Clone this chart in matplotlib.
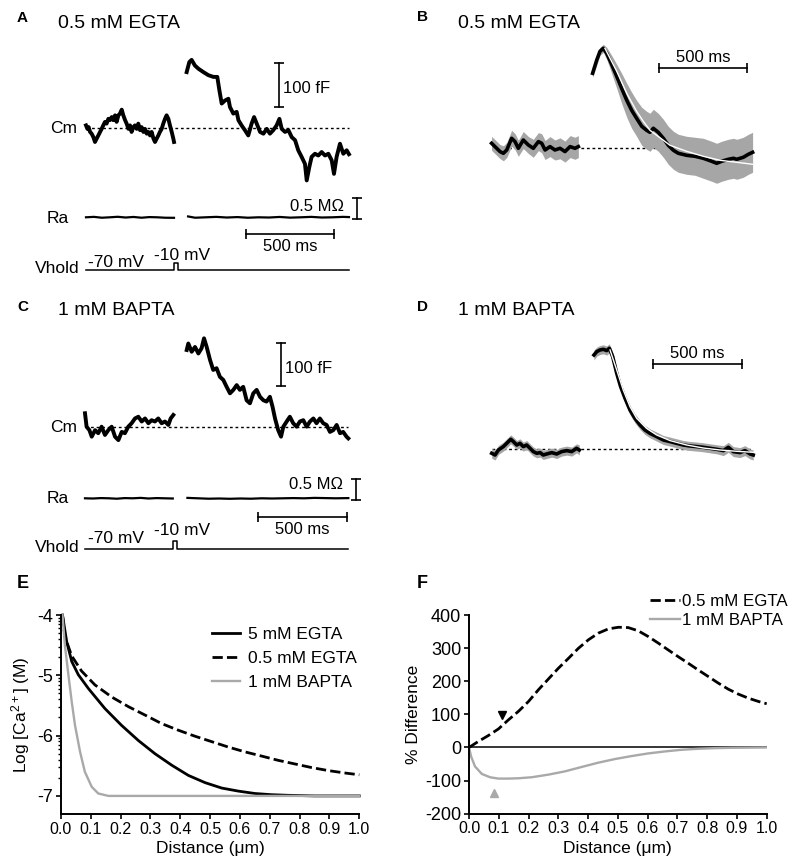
"""Capacitance traces (A-D) and buffer simulations (E-F) redrawn with matplotlib."""

import matplotlib
matplotlib.use("Agg")
import matplotlib.pyplot as plt
from matplotlib.ticker import FormatStrFormatter
import numpy as np

plt.rcParams["font.family"] = ["Liberation Sans", "DejaVu Sans"]
plt.rcParams["axes.unicode_minus"] = False
plt.rcParams["mathtext.fontset"] = "custom"
plt.rcParams["mathtext.rm"] = "Liberation Sans"
plt.rcParams["mathtext.default"] = "regular"

W, H = 800, 868

# ---------------- A: 0.5 mM EGTA, single cell (ms, fF) ----------------
a_pre_t = [0, 8, 15, 23, 32, 42, 51, 61, 70, 80, 89, 98, 108, 117, 127, 136, 146, 155, 165,
           174, 184, 193, 203, 212, 222, 231, 241, 250, 259, 269, 278, 288, 297, 307, 316,
           326, 335, 345, 354, 364, 373, 383, 392, 402, 411, 420, 430, 439, 449, 458, 468,
           477, 487, 496, 500]
a_pre_cm = [6, -2, 2, -9, -13, -21, -32, -24, -17, -9, -2, 6, 14, 10, 21, 18, 25, 18, 29,
            14, 29, 33, 42, 29, 18, 10, -2, 6, -9, 2, 6, -2, 10, -5, 2,
            -9, -2, -13, -9, -17, -9, -24, -32, -24, -17, -9, -2, 10, 21, 29, 21,
            6, -9, -24, -32]
a_post_t = [572, 587, 600, 619, 638, 667, 695, 724, 746, 758, 771, 790, 809, 818, 837,
            856, 866, 884, 903, 922, 941, 955, 970, 989, 1008, 1027, 1045, 1064, 1083, 1099,
            1112, 1131, 1150, 1169, 1188, 1206, 1225, 1244, 1254, 1269, 1282, 1301, 1320,
            1339, 1358, 1377, 1396, 1409, 1424, 1443, 1462, 1481, 1494]
a_post_cm = [128, 151, 156, 143, 136, 128, 121, 117, 117, 86, 56, 63, 67, 48, 33,
             37, 18, 6, -5, -17, 10, 25, 10, -9, -13, -2, -13, -5, 6, 21,
             -2, -9, -5, -21, -28, -51, -66, -82, -120, -89, -66, -59, -63,
             -55, -63, -59, -74, -105, -66, -36, -59, -51, -60]
# access resistance (MOhm, relative)
a_ra_pre_t = [0, 45, 90, 135, 180, 225, 270, 315, 360, 405, 450, 500]
a_ra_pre = [0.0, 0.01, -0.01, 0.0, 0.012, -0.005, 0.008, -0.01, 0.005, 0.0, -0.01, -0.012]
a_ra_post_t = [580, 620, 680, 740, 800, 860, 920, 980, 1040, 1100, 1160, 1220, 1280, 1340, 1400, 1460, 1494]
a_ra_post = [0.02, -0.01, 0.0, 0.01, -0.005, 0.005, -0.01, 0.0, -0.005, 0.008, -0.008, 0.0, 0.01, -0.005, 0.0, 0.01, 0.005]

# ---------------- C: 1 mM BAPTA, single cell ----------------
c_pre_t = [0, 9, 25, 38, 57, 75, 94, 113, 132, 151, 170, 189, 208, 226, 245,
           264, 283, 302, 321, 340, 359, 377, 396, 415, 434, 453, 472, 485, 500]
c_pre_cm = [31, 0, -8, -23, -8, -15, 0, -19, -8, 0, -23, -31, -12, -15, 0,
            8, 19, 23, 12, 19, 8, 15, 12, 19, 8, 12, 4, 19, 27]
c_post_t = [576, 585, 604, 623, 642, 660, 674, 689, 708, 726, 745, 764, 783, 802, 821,
            840, 859, 877, 896, 915, 934, 953, 972, 991, 1010, 1028, 1047, 1062, 1076, 1094,
            1110, 1123, 1142, 1160, 1179, 1198, 1217, 1236, 1255, 1274, 1293, 1311, 1330,
            1349, 1368, 1387, 1406, 1425, 1444, 1462, 1481, 1491]
c_post_cm = [177, 192, 173, 184, 169, 181, 204, 184, 154, 131, 135, 115, 108, 92, 77,
             85, 96, 85, 92, 61, 54, 77, 85, 69, 61, 58, 69, 46, 19, -8,
             -23, 0, 12, 23, 8, 0, 12, 15, 0, 12, 19, 8, 19,
             8, 4, -12, -8, 4, -15, -12, -23, -27]
c_ra_pre_t = [0, 45, 90, 135, 180, 225, 270, 315, 360, 405, 450, 497]
c_ra_pre = [0.0, -0.005, 0.005, 0.0, -0.01, 0.005, 0.0, 0.01, -0.005, 0.005, 0.0, -0.005]
c_ra_post_t = [580, 640, 700, 760, 820, 880, 940, 1000, 1060, 1120, 1180, 1240, 1300, 1360, 1420, 1491]
c_ra_post = [0.01, 0.0, -0.01, -0.005, -0.012, -0.005, -0.01, 0.0, -0.005, 0.0, 0.005, 0.0, 0.01, 0.005, 0.0, 0.005]

# holding potential protocol (ms, mV)
vhold_t = [0, 500, 500, 523, 523, 1492]
vhold_mv = [-70, -70, -10, -10, -70, -70]

# ---------------- B: 0.5 mM EGTA, average (normalised) ----------------
b_pre_t = [9, 28, 57, 76, 95, 123, 142, 161, 189, 218, 246, 275, 294, 313, 341, 369, 398, 426, 455, 483, 502]
b_pre_mean = [0.05, 0.017, -0.033, -0.05, -0.017, 0.1, 0.067, 0.0, 0.083, 0.033, 0.0,
              0.067, 0.05, -0.017, 0.017, -0.017, 0.0, -0.033, 0.017, 0.0, 0.017]
b_pre_sem = [0.07, 0.07, 0.07, 0.075, 0.075, 0.08, 0.08, 0.08, 0.085, 0.085, 0.09,
             0.09, 0.095, 0.095, 0.1, 0.1, 0.105, 0.105, 0.11, 0.11, 0.11]
b_post_t = [583, 606, 625, 644, 663, 691, 720, 748, 777, 805, 833, 862, 890, 909, 928, 956,
            985, 1013, 1042, 1070, 1117, 1165, 1212, 1260, 1288, 1316, 1354, 1383, 1402, 1439, 1468, 1492]
b_post_mean = [0.75, 0.88, 0.97, 1.0, 0.95, 0.84, 0.72, 0.60, 0.48, 0.38, 0.30, 0.22, 0.18, 0.16, 0.20, 0.16,
               0.10, 0.03, -0.02, -0.05, -0.07, -0.08, -0.10, -0.13, -0.15, -0.13, -0.11, -0.10, -0.11, -0.09, -0.06, -0.04]
b_post_sem = [0.04, 0.05, 0.04, 0.04, 0.06, 0.09, 0.12, 0.15, 0.17, 0.18, 0.18, 0.19, 0.19, 0.19, 0.19, 0.19,
              0.19, 0.19, 0.19, 0.19, 0.19, 0.19, 0.2, 0.2, 0.2, 0.2, 0.2, 0.2, 0.2, 0.2, 0.2, 0.2]
b_fit_t = [653, 720, 777, 833, 871, 909, 1023, 1117, 1212, 1307, 1402, 1492]
b_fit = [1.0, 0.77, 0.55, 0.37, 0.27, 0.18, 0.03, -0.03, -0.08, -0.12, -0.14, -0.16]

# ---------------- D: 1 mM BAPTA, average (normalised) ----------------
d_pre_t = [0, 19, 38, 66, 85, 108, 123, 142, 160, 179, 198, 217, 236, 255, 274, 292, 311, 340, 368, 396, 425, 453, 481, 496]
d_pre_mean = [-0.04, -0.057, -0.007, 0.027, 0.06, 0.10, 0.077, 0.043, 0.06, 0.027, 0.043, 0.01,
              -0.023, -0.04, -0.033, -0.057, -0.047, -0.033, -0.047, -0.023, -0.013, -0.023, 0.01, -0.007]
d_pre_sem = [0.05, 0.05, 0.045, 0.045, 0.045, 0.045, 0.045, 0.045, 0.045, 0.045, 0.045, 0.045,
             0.045, 0.045, 0.045, 0.045, 0.045, 0.045, 0.045, 0.045, 0.045, 0.045, 0.045, 0.05]
d_post_t = [579, 595, 613, 632, 651, 666, 685, 708, 730, 755, 783, 811, 840, 868, 896, 934,
            972, 1010, 1047, 1085, 1123, 1161, 1198, 1236, 1274, 1312, 1340, 1368, 1406, 1434, 1463, 1481]
d_post_mean = [0.943, 0.977, 0.993, 1.0, 0.987, 1.01, 0.927, 0.76, 0.627, 0.51, 0.393, 0.31, 0.243, 0.193, 0.16, 0.127,
               0.093, 0.077, 0.06, 0.043, 0.033, 0.027, 0.02, 0.01, 0.0, -0.013, 0.02, -0.023, -0.033, -0.013, -0.047, -0.057]
d_post_sem = [0.05, 0.045, 0.045, 0.045, 0.045, 0.045, 0.045, 0.045, 0.045, 0.045, 0.045, 0.045, 0.045, 0.045, 0.045, 0.045,
              0.045, 0.045, 0.045, 0.045, 0.045, 0.045, 0.045, 0.045, 0.045, 0.05, 0.05, 0.05, 0.05, 0.05, 0.05, 0.05]
d_fit_t = [670, 708, 745, 783, 821, 877, 934, 1010, 1104, 1198, 1293, 1387, 1481]
d_fit = [0.993, 0.793, 0.593, 0.427, 0.31, 0.21, 0.143, 0.087, 0.043, 0.013, -0.007, -0.02, -0.03]

# ---------------- E: simulated [Ca2+] vs distance ----------------
e_dist_egta5 = [0.005, 0.019, 0.036, 0.058, 0.092, 0.147, 0.203, 0.259, 0.315, 0.371, 0.427,
                0.483, 0.539, 0.594, 0.65, 0.706, 0.762, 0.85, 1.0]
e_log_egta5 = [-4.0, -4.44, -4.77, -4.99, -5.22, -5.55, -5.83, -6.08, -6.30, -6.49, -6.66,
               -6.78, -6.87, -6.92, -6.96, -6.98, -6.99, -7.0, -7.0]
e_dist_egta05 = [0.005, 0.013, 0.036, 0.069, 0.114, 0.17, 0.226, 0.282, 0.337, 0.393, 0.449,
                 0.505, 0.561, 0.617, 0.673, 0.728, 0.784, 0.84, 0.896, 0.952, 1.0]
e_log_egta05 = [-4.0, -4.36, -4.68, -4.93, -5.16, -5.36, -5.52, -5.66, -5.80, -5.91, -6.01,
                -6.10, -6.19, -6.27, -6.34, -6.41, -6.47, -6.53, -6.58, -6.62, -6.65]
e_dist_bapta = [0.005, 0.013, 0.025, 0.036, 0.047, 0.064, 0.08, 0.103, 0.125, 0.159, 0.3, 1.0]
e_log_bapta = [-4.0, -4.5, -5.0, -5.44, -5.83, -6.27, -6.60, -6.85, -6.96, -7.0, -7.0, -7.0]
e_labels = ["5 mM EGTA", "0.5 mM EGTA", "1 mM BAPTA"]

# ---------------- F: % difference from 5 mM EGTA ----------------
f_dist_egta = [0, 0.031, 0.065, 0.099, 0.132, 0.166, 0.2, 0.233, 0.267, 0.3, 0.334, 0.367, 0.401, 0.434, 0.468,
               0.502, 0.535, 0.569, 0.602, 0.636, 0.67, 0.703, 0.737, 0.77, 0.804, 0.838, 0.871, 0.905, 0.938, 0.972, 1.0]
f_egta = [0, 18, 36, 56, 83, 109, 139, 174, 207, 239, 269, 299, 325, 345, 358,
          363, 362, 352, 335, 315, 294, 274, 254, 234, 214, 194, 176, 161, 149, 139, 132]
f_dist_bapta = [0, 0.007, 0.02, 0.043, 0.071, 0.099, 0.132, 0.166, 0.21, 0.267, 0.323,
                0.378, 0.434, 0.49, 0.546, 0.602, 0.658, 0.714, 0.77, 0.826, 0.882, 1.0]
f_bapta = [0, -27, -57, -80, -90, -94, -94, -93, -90, -82, -72,
           -59, -46, -35, -26, -18, -12, -7, -4, -2, -1, 0]
f_labels = ["0.5 mM EGTA", "1 mM BAPTA"]
f_egta_marker = (0.11, 98)
f_bapta_marker = (0.085, -136)

GRAY = "#a9a9a9"
BAND = "#a6a6a6"
DASH = (0, (3.7, 1.5))

fig = plt.figure(figsize=(W / 100, H / 100), dpi=100)


def trace_axes(x_px0, px_per_x, y_px0, y0, px_per_y):
    """Full-figure invisible axes whose data units map linearly onto pixels."""
    ax = fig.add_axes([0, 0, 1, 1])
    ax.set_xlim(-x_px0 / px_per_x, (W - x_px0) / px_per_x)
    ax.set_ylim(y0 - (H - y_px0) / px_per_y, y0 + y_px0 / px_per_y)
    ax.set_axis_off()
    ax.patch.set_visible(False)
    return ax


def px_to_data(ax, px, py):
    return ax.transData.inverted().transform((px, H - py))


def vbar(ax, px, py_bottom, length):
    x, y = px_to_data(ax, px, py_bottom)
    ax.plot([x, x], [y, y + length], color="k", lw=1.2, marker="_", ms=7, mew=1.2)


def hbar(ax, px_left, py, length):
    x, y = px_to_data(ax, px_left, py)
    ax.plot([x, x + length], [y, y], color="k", lw=1.2, marker="|", ms=6.5, mew=1.2)


def label(px, py, s, ha="left", size=12, **kw):
    fig.text(px / W, 1 - py / H, s, ha=ha, va="baseline", fontsize=size, **kw)


def draw_cell_panel(letter, title, top, cm_ax, pre_t, pre_cm, post_t, post_cm,
                    ra_ax, ra_pre_t, ra_pre, ra_post_t, ra_post, v_ax, layout):
    label(17, top + layout["letter"], letter, size=11, fontweight="bold")
    label(58.3, top + layout["title"], title, size=14)

    cm_ax.hlines(0, pre_t[0], post_t[-1], colors="k", lw=1, linestyles=(0, (2, 2)))
    cm_ax.plot(pre_t, pre_cm, color="k", lw=2.8)
    cm_ax.plot(post_t, post_cm, color="k", lw=2.8)
    ra_ax.plot(ra_pre_t, ra_pre, color="k", lw=1.6)
    ra_ax.plot(ra_post_t, ra_post, color="k", lw=1.6)
    v_ax.plot(vhold_t, vhold_mv, color="k", lw=1.1)

    vbar(cm_ax, layout["cm_bar_x"], top + layout["cm_bar_y"], 100)
    label(layout["cm_bar_x"] + 4, top + layout["cm_txt_y"], "100 fF")
    vbar(ra_ax, layout["ra_bar_x"], top + layout["ra_bar_y"], 0.5)
    label(layout["ra_bar_x"] - 13, top + layout["ra_txt_y"], "0.5 M\u03a9", ha="right")
    hbar(cm_ax, layout["t_bar_x"], top + layout["t_bar_y"], 500)
    label(layout["t_bar_x"] + 44, top + layout["t_txt_y"], "500 ms", ha="center")

    label(50, top + layout["cm_lab"], "Cm", size=12.5)
    label(46.7, top + layout["ra_lab"], "Ra", size=12.5)
    label(35, top + layout["v_lab"], "Vhold", size=12.5)
    label(88.5, top + layout["v70"], "-70 mV", size=12.5)
    label(154.5, top + layout["v10"], "-10 mV", size=12.5)


# ---- panel A ----
a_cm = trace_axes(86, 0.176, 128, 0, 0.4367)
a_ra = trace_axes(86, 0.176, 217.3, 0, 42.7)
a_v = trace_axes(86, 0.176, 270, -70, 0.1217)
draw_cell_panel("A", "0.5 mM EGTA", 0, a_cm, a_pre_t, a_pre_cm, a_post_t, a_post_cm,
                a_ra, a_ra_pre_t, a_ra_pre, a_ra_post_t, a_ra_post, a_v,
                dict(letter=21.7, title=28.3, cm_bar_x=279, cm_bar_y=107, cm_txt_y=92.7,
                     ra_bar_x=357, ra_bar_y=219, ra_txt_y=210.7, t_bar_x=246, t_bar_y=234,
                     t_txt_y=250.7, cm_lab=132.7, ra_lab=223.3, v_lab=272.7, v70=266.7, v10=260))

# ---- panel C ----
c_cm = trace_axes(85, 0.1766, 426.7, 0, 0.4333)
c_ra = trace_axes(85, 0.1766, 498.3, 0, 41.3)
c_v = trace_axes(85, 0.1766, 549, -70, 0.138)
draw_cell_panel("C", "1 mM BAPTA", 290, c_cm, c_pre_t, c_pre_cm, c_post_t, c_post_cm,
                c_ra, c_ra_pre_t, c_ra_pre, c_ra_post_t, c_ra_post, c_v,
                dict(letter=20.7, title=25, cm_bar_x=281, cm_bar_y=96, cm_txt_y=83.3,
                     ra_bar_x=356, ra_bar_y=210, ra_txt_y=199, t_bar_x=258.3, t_bar_y=227.3,
                     t_txt_y=244.3, cm_lab=141.7, ra_lab=212.7, v_lab=261.7, v70=253.3, v10=245))


def draw_average_panel(letter, title, top, ax, pre_t, pre_mean, pre_sem, post_t, post_mean,
                       post_sem, fit_t, fit, bar_x, bar_y, txt_y):
    label(416.7, top + 20.7, letter, size=11, fontweight="bold")
    label(458.3, top + (28.3 if top == 0 else 25), title, size=14)
    ax.hlines(0, pre_t[0], post_t[-1], colors="k", lw=1, linestyles=(0, (2, 2)), zorder=1)
    for t, m, s in ((pre_t, pre_mean, pre_sem), (post_t, post_mean, post_sem)):
        t, m, s = np.asarray(t), np.asarray(m), np.asarray(s)
        ax.fill_between(t, m - s, m + s, color=BAND, lw=0, zorder=2)
        ax.plot(t, m, color="k", lw=2.6, zorder=3)
    ax.plot(fit_t, fit, color="white", lw=1, zorder=4)
    hbar(ax, bar_x, bar_y, 500)
    label(bar_x + 44, txt_y, "500 ms", ha="center")


b_ax = trace_axes(490, 0.176, 148.3, 0, 100)
draw_average_panel("B", "0.5 mM EGTA", 0, b_ax, b_pre_t, b_pre_mean, b_pre_sem,
                   b_post_t, b_post_mean, b_post_sem, b_fit_t, b_fit, 659.3, 68, 61.7)
d_ax = trace_axes(491.7, 0.1766, 449.3, 0, 100)
draw_average_panel("D", "1 mM BAPTA", 290, d_ax, d_pre_t, d_pre_mean, d_pre_sem,
                   d_post_t, d_post_mean, d_post_sem, d_fit_t, d_fit, 653.3, 364.3, 358.3)


def style_axes(ax):
    for side in ("top", "right"):
        ax.spines[side].set_visible(False)
    for side in ("left", "bottom"):
        ax.spines[side].set_linewidth(1.4)
    ax.tick_params(which="major", direction="out", length=3.6, width=1.2, pad=2, colors="k")
    ax.set_xlim(0, 1.0)
    ax.set_xticks(np.round(np.arange(0, 1.01, 0.1), 1))
    ax.xaxis.set_major_formatter(FormatStrFormatter("%.1f"))
    ax.tick_params(axis="x", labelsize=11.5)
    ax.tick_params(axis="y", labelsize=13)
    ax.set_xlabel("Distance (\u03bcm)", fontsize=12.5, labelpad=3)


# ---- panel E ----
ax_e = fig.add_axes([61 / W, 1 - 814 / H, 298.3 / W, 199 / H])
style_axes(ax_e)
ax_e.set_ylim(-7.30, -4.0)
ax_e.set_yticks([-7, -6, -5, -4])
ax_e.yaxis.set_major_formatter(FormatStrFormatter("%d"))
ax_e.set_yticks([-n + np.log10(k) for n in (5, 6, 7) for k in range(2, 10)], minor=True)
ax_e.tick_params(which="minor", axis="y", direction="out", length=2.2, width=1)
ax_e.plot(e_dist_egta5, e_log_egta5, color="k", lw=2, clip_on=False, label=e_labels[0])
ax_e.plot(e_dist_egta05, e_log_egta05, color="k", lw=2, ls=DASH, clip_on=False, label=e_labels[1])
ax_e.plot(e_dist_bapta, e_log_bapta, color=GRAY, lw=1.7, clip_on=False, label=e_labels[2])
ax_e.set_ylabel("Log [Ca$^{2+}$] (M)", fontsize=12.5, labelpad=4)
ax_e.legend(loc="upper left", bbox_to_anchor=(211.7 / W, 1 - 627 / H), bbox_transform=fig.transFigure,
            frameon=False, fontsize=12.5, handlelength=1.65, handletextpad=0.45,
            labelspacing=0.5, borderpad=0, borderaxespad=0)
label(16.7, 588, "E", size=13, fontweight="bold")

# ---- panel F ----
ax_f = fig.add_axes([469 / W, 1 - 813.7 / H, 297.7 / W, 198.7 / H])
style_axes(ax_f)
ax_f.set_ylim(-200, 400)
ax_f.set_yticks(np.arange(-200, 401, 100))
ax_f.axhline(0, color="k", lw=1.1, zorder=1)
egta_line, = ax_f.plot(f_dist_egta, f_egta, color="k", lw=2, ls=DASH, zorder=3)
bapta_line, = ax_f.plot(f_dist_bapta, f_bapta, color=GRAY, lw=1.7, zorder=2)
ax_f.plot(*f_egta_marker, marker="v", color="k", ms=6, ls="none")
ax_f.plot(*f_bapta_marker, marker="^", color=GRAY, ms=6, ls="none")
ax_f.set_ylabel("% Difference", fontsize=12.5, labelpad=3)
ax_f.legend([egta_line, bapta_line], f_labels, loc="upper left",
            bbox_to_anchor=(650 / W, 1 - 594 / H), bbox_transform=fig.transFigure,
            frameon=False, fontsize=12.2, handlelength=1.75, handletextpad=0.15,
            labelspacing=0.22, borderpad=0, borderaxespad=0)
label(416.7, 588, "F", size=13, fontweight="bold")

fig.savefig("out.png", dpi=100)
